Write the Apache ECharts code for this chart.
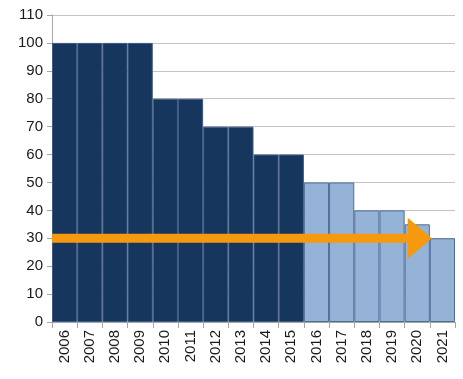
<!DOCTYPE html>
<html><head><meta charset="utf-8">
<script src="https://cdn.jsdelivr.net/npm/echarts@6/dist/echarts.min.js"></script>
<style>html,body{margin:0;padding:0;background:#fff}#c{width:463px;height:379px}</style>
</head><body><div id="c"></div>
<script>
var years = ['2006','2007','2008','2009','2010','2011','2012','2013','2014','2015','2016','2017','2018','2019','2020','2021'];
var actualValues = [100,100,100,100,80,80,70,70,60,60,null,null,null,null,null,null];
var targetValues = [null,null,null,null,null,null,null,null,null,null,50,50,40,40,35,30];
var yTicks = {min:0, max:110, step:10};
var arrowLevel = 30;
var arrowStart = 0;
var arrowEnd = 14.6;

var chart = echarts.init(document.getElementById('c'));
var font = 'Liberation Sans, Arial, sans-serif';
chart.setOption({
  animation:false,
  grid:{left:52,right:8,top:15,bottom:57},
  xAxis:[{
    type:'category', data:years, boundaryGap:true,
    axisLine:{lineStyle:{color:'#a6a6a6',width:1}},
    axisTick:{show:true,length:6,alignWithLabel:false,lineStyle:{color:'#a6a6a6'}},
    axisLabel:{rotate:90,margin:8,fontSize:15,fontFamily:font,color:'#1a1a1a',interval:0},
    splitLine:{show:false}
  },{
    type:'value', min:0, max:years.length, show:false
  }],
  yAxis:{
    type:'value', min:yTicks.min, max:yTicks.max, interval:yTicks.step,
    axisLine:{show:true,lineStyle:{color:'#a6a6a6'}},
    axisTick:{show:true,length:5,lineStyle:{color:'#a6a6a6'}},
    axisLabel:{fontSize:15,fontFamily:font,color:'#1a1a1a',margin:9},
    splitLine:{lineStyle:{color:'#c4c4c4',width:1}}
  },
  series:[{
    type:'bar', stack:'v', data:actualValues, barCategoryGap:'0%',
    itemStyle:{color:'#17365d',borderColor:'#3f5b85',borderWidth:1}
  },{
    type:'bar', stack:'v', data:targetValues, barCategoryGap:'0%',
    itemStyle:{color:'#95b3d7',borderColor:'#4f6c98',borderWidth:1}
  },{
    type:'line', xAxisIndex:1, z:10,
    data:[{value:[arrowStart,arrowLevel],symbol:'none'},
          {value:[arrowEnd,arrowLevel],symbol:'triangle',symbolSize:[41,24],symbolRotate:-90}],
    lineStyle:{color:'#f7990f',width:9,cap:'butt'},
    itemStyle:{color:'#f7990f'},
    showSymbol:true, silent:true
  }]
});
</script></body></html>
